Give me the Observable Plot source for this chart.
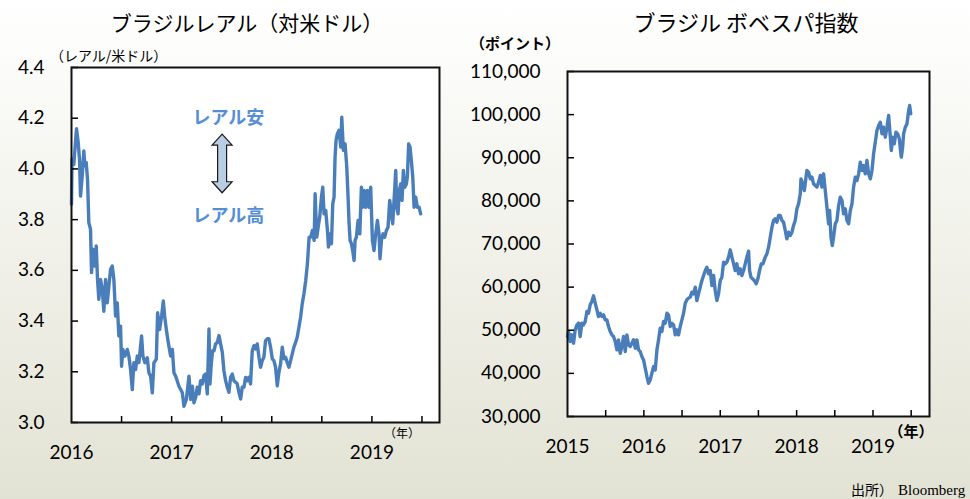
<!DOCTYPE html>
<html><head><meta charset="utf-8">
<script src="https://cdn.jsdelivr.net/npm/d3@7"></script>
<script src="https://cdn.jsdelivr.net/npm/@observablehq/plot@0.6"></script>
<style>
html,body{margin:0;padding:0;}
body{width:970px;height:499px;overflow:hidden;position:relative;
  background:linear-gradient(to bottom,#ffffff 0%,#f4f4ee 40%,#e2e2d4 100%);
  font-family:"Noto Sans CJK JP",sans-serif;}
#left,#right,#overlay{position:absolute;top:0;}
#left{left:0}
#right{left:460px}
#overlay{left:0;pointer-events:none}
</style></head><body>
<div id="left"></div><div id="right"></div>
<svg id="overlay" width="970" height="499" xmlns="http://www.w3.org/2000/svg">
  <g font-family="'Noto Sans CJK JP', sans-serif" fill="#000">
    <text x="247" y="31" font-size="21" text-anchor="middle">ブラジルレアル（対米ドル）</text>
    <text x="746" y="31" font-size="22" text-anchor="middle">ブラジル ボベスパ指数</text>
    <text x="50" y="61" font-size="14">（レアル/米ドル）</text>
    <text x="470" y="49" font-size="15" font-weight="bold">（ポイント）</text>
    <text x="402" y="438" font-size="12" text-anchor="middle">（年）</text>
    <text x="911" y="437" font-size="15" font-weight="bold" text-anchor="middle">（年）</text>
    <text x="851" y="495" font-size="14">出所）</text>
    <text x="898" y="495" font-size="15" font-family="'Liberation Serif', serif">Bloomberg</text>
  </g>
</svg>
<script>
// ---------- Data: Brazilian real per US dollar (decimal year, value) ----------
const brlT = [2016.000,2016.005,2016.023,2016.050,2016.067,2016.080,2016.090,2016.107,2016.123,2016.133,2016.147,2016.160,2016.173,2016.190,2016.200,2016.213,2016.233,2016.247,2016.260,2016.273,2016.290,2016.307,2016.323,2016.340,2016.357,2016.373,2016.390,2016.407,2016.423,2016.440,2016.457,2016.473,2016.490,2016.500,2016.513,2016.533,2016.557,2016.573,2016.590,2016.607,2016.623,2016.640,2016.657,2016.673,2016.700,2016.713,2016.733,2016.757,2016.773,2016.790,2016.807,2016.823,2016.847,2016.860,2016.880,2016.900,2016.917,2016.930,2016.947,2016.967,2016.990,2017.007,2017.023,2017.040,2017.073,2017.107,2017.123,2017.147,2017.173,2017.190,2017.207,2017.223,
2017.240,2017.256,2017.273,2017.289,2017.306,2017.323,2017.339,2017.356,2017.373,2017.383,2017.396,2017.409,2017.423,2017.439,2017.456,2017.473,2017.489,2017.506,2017.522,2017.539,2017.556,2017.572,2017.589,2017.606,2017.622,2017.639,2017.655,2017.672,2017.689,2017.705,2017.722,2017.739,2017.755,2017.772,2017.788,2017.805,2017.822,2017.838,2017.855,2017.872,2017.888,2017.905,2017.921,2017.938,2017.955,2017.971,2017.988,2018.005,2018.021,2018.038,2018.055,2018.071,2018.088,2018.105,2018.121,2018.138,2018.154,2018.171,2018.188,2018.204,2018.221,2018.238,2018.254,2018.271,2018.288,2018.304,2018.321,2018.339,
2018.356,2018.373,2018.389,2018.406,2018.423,2018.433,2018.449,2018.463,2018.479,2018.496,2018.509,2018.522,2018.539,2018.556,2018.566,2018.582,2018.596,2018.609,2018.622,2018.632,2018.642,2018.655,2018.672,2018.689,2018.699,2018.715,2018.732,2018.749,2018.762,2018.772,2018.782,2018.795,2018.808,2018.822,2018.832,2018.845,2018.862,2018.879,2018.895,2018.908,2018.922,2018.938,2018.955,2018.972,2018.988,2019.005,2019.021,2019.038,2019.055,2019.071,2019.081,2019.095,2019.111,2019.128,2019.144,2019.161,2019.178,2019.194,2019.208,2019.221,2019.238,2019.248,2019.261,2019.274,2019.288,2019.301,2019.314,2019.328,2019.344,2019.354,2019.367,2019.381,2019.394,2019.408,2019.421,2019.437,2019.454,2019.471,2019.487];
const brlV = [3.861,4.038,4.018,4.159,4.104,4.038,3.893,3.972,4.071,4.012,4.025,3.959,3.788,3.762,3.591,3.683,3.617,3.696,3.564,3.486,3.564,3.525,3.439,3.564,3.472,3.538,3.604,3.617,3.564,3.420,3.472,3.341,3.380,3.222,3.288,3.262,3.288,3.262,3.209,3.130,3.236,3.209,3.262,3.236,3.341,3.262,3.236,3.255,3.196,3.183,3.117,3.236,3.249,3.433,3.367,3.420,3.479,3.420,3.367,3.314,3.262,3.288,3.196,3.183,3.143,3.117,3.064,3.091,3.183,3.091,3.143,3.078,
3.099,3.139,3.113,3.165,3.152,3.185,3.191,3.113,3.369,3.152,3.231,3.283,3.283,3.310,3.316,3.343,3.310,3.277,3.205,3.165,3.139,3.119,3.178,3.191,3.165,3.159,3.152,3.119,3.093,3.139,3.139,3.178,3.165,3.178,3.152,3.283,3.303,3.290,3.310,3.257,3.218,3.244,3.257,3.323,3.330,3.330,3.297,3.251,3.244,3.218,3.145,3.198,3.231,3.297,3.251,3.257,3.237,3.218,3.244,3.270,3.297,3.316,3.336,3.376,3.415,3.468,3.507,3.560,
3.626,3.731,3.731,3.757,3.718,3.902,3.731,3.770,3.810,3.889,3.928,3.823,3.836,3.757,3.692,3.744,3.705,3.862,3.889,4.047,4.112,4.139,4.152,4.086,4.204,4.073,4.099,4.007,3.889,3.784,3.718,3.705,3.678,3.639,3.718,3.731,3.797,3.744,3.928,3.849,3.915,3.849,3.915,3.849,3.928,3.718,3.678,3.744,3.797,3.744,3.646,3.718,3.744,3.731,3.757,3.770,3.876,3.823,3.784,3.876,3.994,3.849,3.823,3.915,3.941,3.876,3.994,3.928,3.941,3.968,4.099,4.086,4.033,3.968,3.849,3.889,3.849,3.849,3.823];

// ---------- Data: Bovespa index (decimal year, points) ----------
const bvspT = [2015.000,2015.013,2015.035,2015.057,2015.079,2015.101,2015.123,2015.145,2015.166,2015.188,2015.210,2015.232,2015.254,2015.275,2015.297,2015.319,2015.341,2015.363,2015.385,2015.406,2015.428,2015.450,2015.472,2015.494,2015.516,2015.537,2015.559,2015.581,2015.603,2015.625,2015.647,2015.668,2015.690,2015.712,2015.734,2015.756,2015.778,2015.799,2015.821,2015.843,2015.865,2015.887,2015.909,2015.930,2015.952,2015.974,2015.996,2016.018,2016.040,2016.061,2016.083,2016.105,2016.127,2016.149,2016.171,2016.192,2016.214,2016.236,2016.258,2016.280,2016.302,2016.323,2016.345,2016.367,2016.389,2016.411,2016.432,2016.454,2016.476,2016.498,2016.520,2016.542,2016.563,2016.585,
2016.607,2016.629,2016.651,2016.673,2016.694,2016.716,2016.738,2016.760,2016.782,2016.804,2016.825,2016.847,2016.869,2016.891,2016.913,2016.934,2016.956,2016.978,2017.000,2017.022,2017.044,2017.066,2017.087,2017.109,2017.131,2017.153,2017.175,2017.196,2017.218,2017.240,2017.262,2017.284,2017.306,2017.327,2017.349,2017.371,2017.384,2017.402,2017.423,2017.445,2017.471,2017.493,2017.515,2017.537,2017.559,2017.589,2017.611,2017.633,2017.655,2017.677,2017.698,2017.720,2017.742,2017.764,2017.786,2017.808,2017.829,2017.851,2017.873,2017.895,2017.917,2017.939,2017.960,2017.982,2018.004,2018.026,2018.048,2018.057,2018.079,2018.101,2018.123,
2018.135,2018.157,2018.179,2018.201,2018.222,2018.244,2018.266,2018.288,2018.310,2018.332,2018.353,2018.375,2018.397,2018.419,2018.432,2018.450,2018.467,2018.484,2018.506,2018.528,2018.550,2018.572,2018.594,2018.615,2018.637,2018.659,2018.681,2018.703,2018.725,2018.746,2018.768,2018.790,2018.812,2018.834,2018.856,2018.877,2018.899,2018.921,2018.943,2018.965,2018.987,2019.008,2019.030,2019.052,2019.074,2019.096,2019.118,2019.139,2019.161,2019.183,2019.205,2019.227,2019.240,2019.257,2019.279,2019.301,2019.323,2019.345,2019.358,2019.371,2019.388,2019.401,2019.423,2019.445,2019.467,2019.480,2019.494];
const bvspV = [48545,49706,47384,48932,46997,50093,51254,51641,48545,51641,51254,52028,54350,53963,55898,56672,57988,56285,54737,53189,53963,53189,53576,52415,52415,50867,49706,48932,48545,47384,45449,47771,44675,46223,48545,45062,48932,46610,46223,46997,47771,45836,47771,45449,45062,43901,43127,41192,39257,37708,38483,40031,41579,40805,45449,47771,50480,49706,52028,51641,53963,53576,50867,51641,51254,48932,50093,48932,50867,52415,53963,56285,57059,57446,
57674,58833,58447,59993,56901,58447,59993,61539,62698,63857,64630,63084,63857,60379,62698,59220,56901,58447,61539,62312,65790,65403,65790,66949,68649,66949,65403,63857,65403,63084,64244,62698,63857,65403,66949,68340,63857,62312,61925,61539,60766,61925,63857,65403,65403,66949,67722,69268,71586,73905,75451,75838,75064,76610,76610,75451,75064,73132,71200,72745,71973,72745,74292,75451,78158,79316,81634,85112,83953,82407,85498,
87044,86658,85112,85499,83953,83567,83180,84340,85885,83180,86272,82407,78542,74678,77770,71586,69654,71586,74678,75451,78929,80861,80088,77002,78156,75451,74678,77770,79315,83180,85499,84726,86272,88977,87044,88204,86272,89363,86272,85112,87044,90909,93614,96319,97479,98251,95546,97092,94773,97092,99797,94773,91682,94773,93228,95933,95546,94387,92068,90136,92455,95546,97092,97865,100957,102116,100184];

// ---------- Axes ----------
const brlYTicks = [3.0, 3.2, 3.4, 3.6, 3.8, 4.0, 4.2, 4.4];
const brlXTicks = [2016.5, 2017, 2017.5, 2018, 2018.5, 2019, 2019.5];
const brlYears = [2016, 2017, 2018, 2019];
const bvspYTicks = [30000, 40000, 50000, 60000, 70000, 80000, 90000, 100000, 110000];
const bvspXTicks = [2015.5, 2016, 2016.5, 2017, 2017.5, 2018, 2018.5, 2019, 2019.5];
const bvspYears = [2015, 2016, 2017, 2018, 2019];

// ---------- Annotation (in data units of the left chart) ----------
const noteLabels = ["レアル安", "レアル高"];
const noteX = [2017.567, 2017.567];
const noteY = [4.201, 3.814];
const arrowSpec = {x: 2017.509, top: 4.135, bottom: 3.904};

const brl = brlT.map((t, i) => ({t, v: brlV[i]}));
const bvsp = bvspT.map((t, i) => ({t, v: bvspV[i]}));
const notes = noteLabels.map((label, i) => ({label, x: noteX[i], y: noteY[i]}));

const LINE = "#4a7ebb";
const NUMFONT = "Lato, 'Open Sans', sans-serif";

function doubleArrow(index, scales) {
  const cx = scales.x(arrowSpec.x), y1 = scales.y(arrowSpec.top), y2 = scales.y(arrowSpec.bottom);
  const hw = 10, sw = 4.5, hh = 11;
  const d = `M${cx},${y1}L${cx+hw},${y1+hh}L${cx+sw},${y1+hh}L${cx+sw},${y2-hh}L${cx+hw},${y2-hh}L${cx},${y2}L${cx-hw},${y2-hh}L${cx-sw},${y2-hh}L${cx-sw},${y1+hh}L${cx-hw},${y1+hh}Z`;
  const p = document.createElementNS("http://www.w3.org/2000/svg", "path");
  p.setAttribute("d", d);
  p.setAttribute("fill", "#b9cde5");
  p.setAttribute("stroke", "#1a1a1a");
  p.setAttribute("stroke-width", "1.2");
  return p;
}

// Left chart
const W1 = 480, H1 = 470, mL1 = 71, mR1 = 41, mT1 = 67, mB1 = 48;
const fw1 = W1 - mL1 - mR1, fh1 = H1 - mT1 - mB1;
const leftPlot = Plot.plot({
  width: W1, height: H1,
  marginLeft: mL1, marginRight: mR1, marginTop: mT1, marginBottom: mB1,
  style: {background: "transparent", fontFamily: NUMFONT, color: "#000", overflow: "visible"},
  x: {type: "linear", domain: [2016, 2019.675], label: null},
  y: {type: "linear", domain: [3.0, 4.4], label: null},
  marks: [
    Plot.frame({fill: "white", stroke: null}),
    Plot.line(brl, {x: "t", y: "v", stroke: LINE, strokeWidth: 3.4, strokeLinejoin: "round"}),
    Plot.ruleX(brlXTicks, {x: d => d, insetTop: fh1 - 6, stroke: "#000", strokeWidth: 1.5}),
    Plot.ruleY(brlYTicks, {y: d => d, insetRight: fw1 - 7, stroke: "#000", strokeWidth: 1.5}),
    Plot.axisX(brlYears, {label: null, tickSize: 0, tickPadding: 23, fontSize: 19, tickFormat: d => String(d), fill: "#000"}),
    Plot.axisY(brlYTicks, {label: null, tickSize: 0, tickPadding: 27, fontSize: 19, tickFormat: d3.format(".1f"), fill: "#000"}),
    Plot.frame({stroke: "#111", strokeWidth: 2}),
    doubleArrow,
    Plot.text(notes, {x: "x", y: "y", text: "label", fill: "#558ed5", fontSize: 18, fontWeight: "bold",
      fontFamily: "'Noto Sans CJK JP', sans-serif", textAnchor: "middle"})
  ]
});
document.getElementById("left").appendChild(leftPlot);

// Right chart
const W2 = 510, H2 = 470, mL2 = 107, mR2 = 41, mT2 = 71, mB2 = 54;
const fw2 = W2 - mL2 - mR2, fh2 = H2 - mT2 - mB2;
const rightPlot = Plot.plot({
  width: W2, height: H2,
  marginLeft: mL2, marginRight: mR2, marginTop: mT2, marginBottom: mB2,
  style: {background: "transparent", fontFamily: NUMFONT, color: "#000", overflow: "visible"},
  x: {type: "linear", domain: [2015, 2019.74], label: null},
  y: {type: "linear", domain: [30000, 110000], label: null},
  marks: [
    Plot.frame({fill: "white", stroke: null}),
    Plot.line(bvsp, {x: "t", y: "v", stroke: LINE, strokeWidth: 3.4, strokeLinejoin: "round"}),
    Plot.ruleX(bvspXTicks, {x: d => d, insetTop: fh2 - 6, stroke: "#000", strokeWidth: 1.5}),
    Plot.ruleY(bvspYTicks, {y: d => d, insetRight: fw2 - 7, stroke: "#000", strokeWidth: 1.5}),
    Plot.axisX(bvspYears, {label: null, tickSize: 0, tickPadding: 23, fontSize: 19, tickFormat: d => String(d), fill: "#000"}),
    Plot.axisY(bvspYTicks, {label: null, tickSize: 0, tickPadding: 27, fontSize: 19, tickFormat: d3.format(","), fill: "#000"}),
    Plot.frame({stroke: "#111", strokeWidth: 2})
  ]
});
document.getElementById("right").appendChild(rightPlot);
</script>
</body></html>
